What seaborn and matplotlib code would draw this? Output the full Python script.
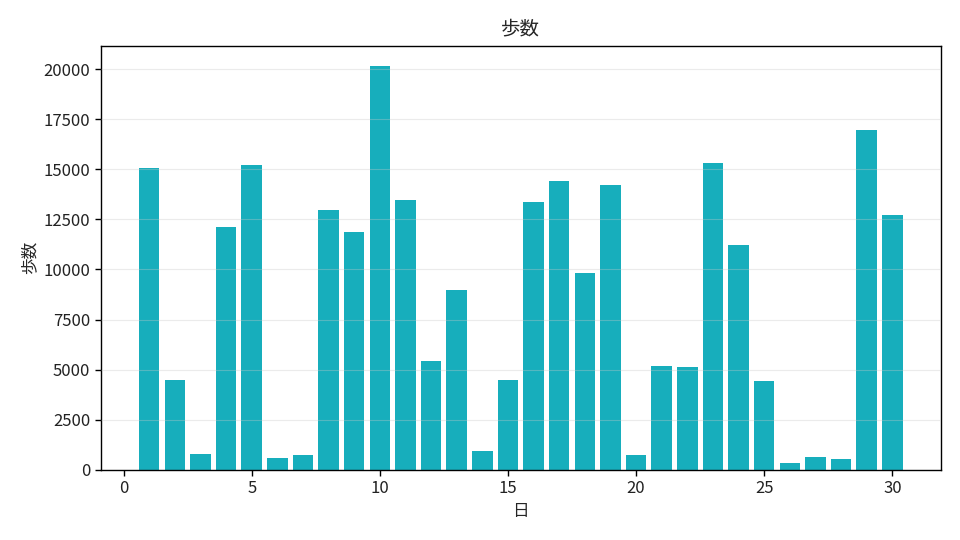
import matplotlib
matplotlib.use("Agg")
import matplotlib.pyplot as plt
import seaborn as sns
import pandas as pd

days = list(range(1, 31))
steps = [15050, 4490, 800, 12120, 15210, 600, 750, 12970, 11870, 20150,
         13470, 5440, 8980, 950, 4490, 13370, 14410, 9830, 14210, 750,
         5190, 5140, 15310, 11220, 4440, 350, 650, 550, 16960, 12720]
title = "歩数"
xlabel = "日"
ylabel = "歩数"

sns.set_theme(style="white")
plt.rcParams['font.family'] = ['Noto Sans CJK JP', 'DejaVu Sans']

df = pd.DataFrame({"day": days, "steps": steps})
fig = plt.figure(figsize=(9.6, 5.4), dpi=100)
ax = fig.add_axes([0.105, 0.130, 0.875, 0.785])
sns.barplot(data=df, x="day", y="steps", native_scale=True, color="#17AEBC",
            saturation=1, width=0.8, linewidth=0, edgecolor="none", ax=ax)
ax.set_xlim(0.6 - 0.05 * 29.8, 30.4 + 0.05 * 29.8)
ax.set_ylim(0, max(steps) * 1.05)
ax.set_xticks([0, 5, 10, 15, 20, 25, 30])
ax.set_yticks(range(0, 20001, 2500))
ax.set_axisbelow(False)
ax.grid(axis="y", color="#c8c8c8", alpha=0.35, linewidth=0.8)
for s in ax.spines.values():
    s.set_color("black")
    s.set_linewidth(1.0)
ax.tick_params(axis="both", which="both", direction="out", length=4, width=1,
               color="black", labelsize=12, labelcolor="#222222",
               bottom=True, left=True)
ax.set_title(title, fontsize=14, pad=8)
ax.set_xlabel(xlabel, fontsize=12)
ax.set_ylabel(ylabel, fontsize=12)
fig.savefig("out.png", dpi=100)
